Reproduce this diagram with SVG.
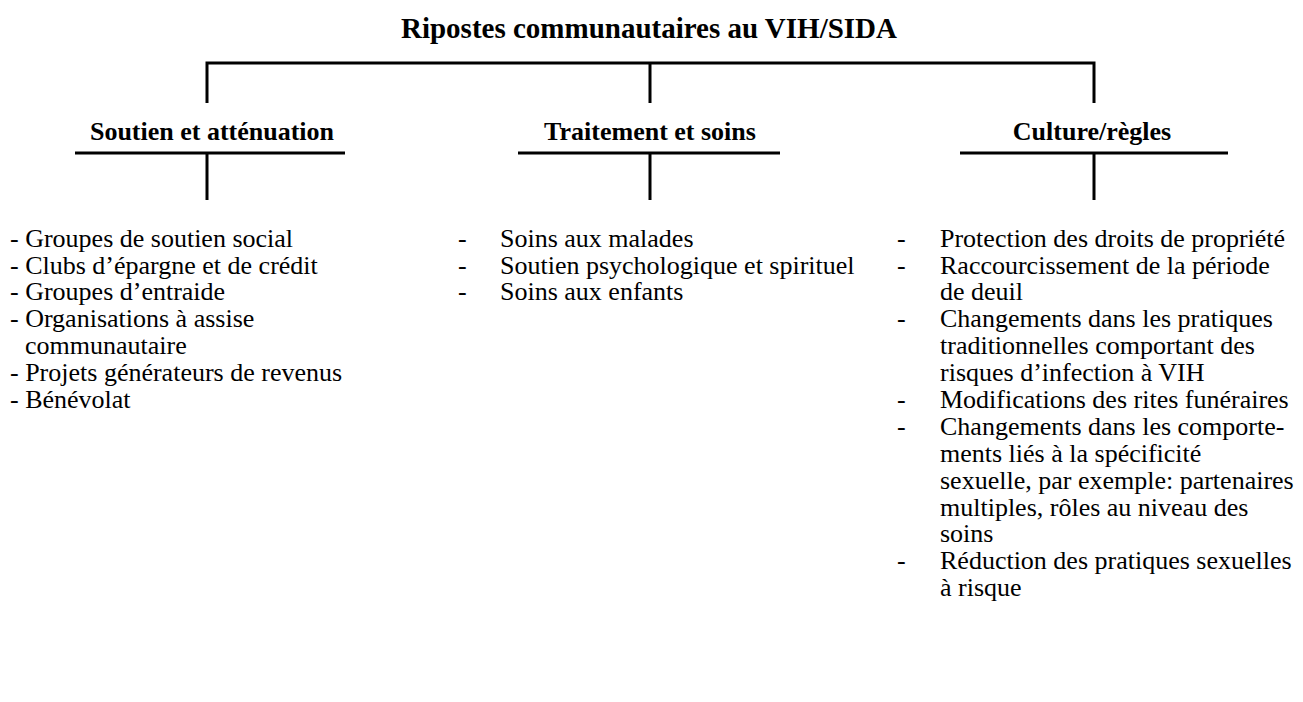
<svg xmlns="http://www.w3.org/2000/svg" width="1303" height="702" viewBox="0 0 1303 702">
<style>
.t{font-family:"Liberation Serif","Times New Roman",serif;font-size:26px;fill:#000}
.b{font-weight:bold;text-anchor:middle}
.h{font-size:29px}
.ln{stroke:#000;stroke-width:3;fill:none}
</style>
<rect width="1303" height="702" fill="#fff"/>
<g id="title"><text class="t b h" x="649" y="38">Ripostes communautaires au VIH/SIDA</text></g>
<g id="connectors">
<path class="ln" d="M207 103V63H1094V103M650 63V103"/>
<path class="ln" d="M75 153H345M207 153V200"/>
<path class="ln" d="M518 153H780M650 153V200"/>
<path class="ln" d="M960 153H1228M1094 153V200"/>
</g>
<g id="n1"><text class="t b" x="212" y="140">Soutien et atténuation</text>
<text class="t" x="10" y="247">- Groupes de soutien social</text>
<text class="t" x="10" y="274">- Clubs d’épargne et de crédit</text>
<text class="t" x="10" y="300">- Groupes d’entraide</text>
<text class="t" x="10" y="327">- Organisations à assise</text>
<text class="t" x="25" y="354">communautaire</text>
<text class="t" x="10" y="381">- Projets générateurs de revenus</text>
<text class="t" x="10" y="408">- Bénévolat</text>
</g>
<g id="n2"><text class="t b" x="650" y="140">Traitement et soins</text>
<text class="t" x="458" y="247">-</text><text class="t" x="500" y="247">Soins aux malades</text>
<text class="t" x="458" y="274">-</text><text class="t" x="500" y="274">Soutien psychologique et spirituel</text>
<text class="t" x="458" y="300">-</text><text class="t" x="500" y="300">Soins aux enfants</text>
</g>
<g id="n3"><text class="t b" x="1092" y="140">Culture/règles</text>
<text class="t" x="897" y="247">-</text><text class="t" x="940" y="247">Protection des droits de propriété</text>
<text class="t" x="897" y="274">-</text><text class="t" x="940" y="274">Raccourcissement de la période</text>
<text class="t" x="940" y="300">de deuil</text>
<text class="t" x="897" y="327">-</text><text class="t" x="940" y="327">Changements dans les pratiques</text>
<text class="t" x="940" y="354">traditionnelles comportant des</text>
<text class="t" x="940" y="381">risques d’infection à VIH</text>
<text class="t" x="897" y="408">-</text><text class="t" x="940" y="408">Modifications des rites funéraires</text>
<text class="t" x="897" y="435">-</text><text class="t" x="940" y="435">Changements dans les comporte-</text>
<text class="t" x="940" y="462">ments liés à la spécificité</text>
<text class="t" x="940" y="489">sexuelle, par exemple: partenaires</text>
<text class="t" x="940" y="516">multiples, rôles au niveau des</text>
<text class="t" x="940" y="542">soins</text>
<text class="t" x="897" y="569">-</text><text class="t" x="940" y="569">Réduction des pratiques sexuelles</text>
<text class="t" x="940" y="596">à risque</text>
</g>
</svg>
